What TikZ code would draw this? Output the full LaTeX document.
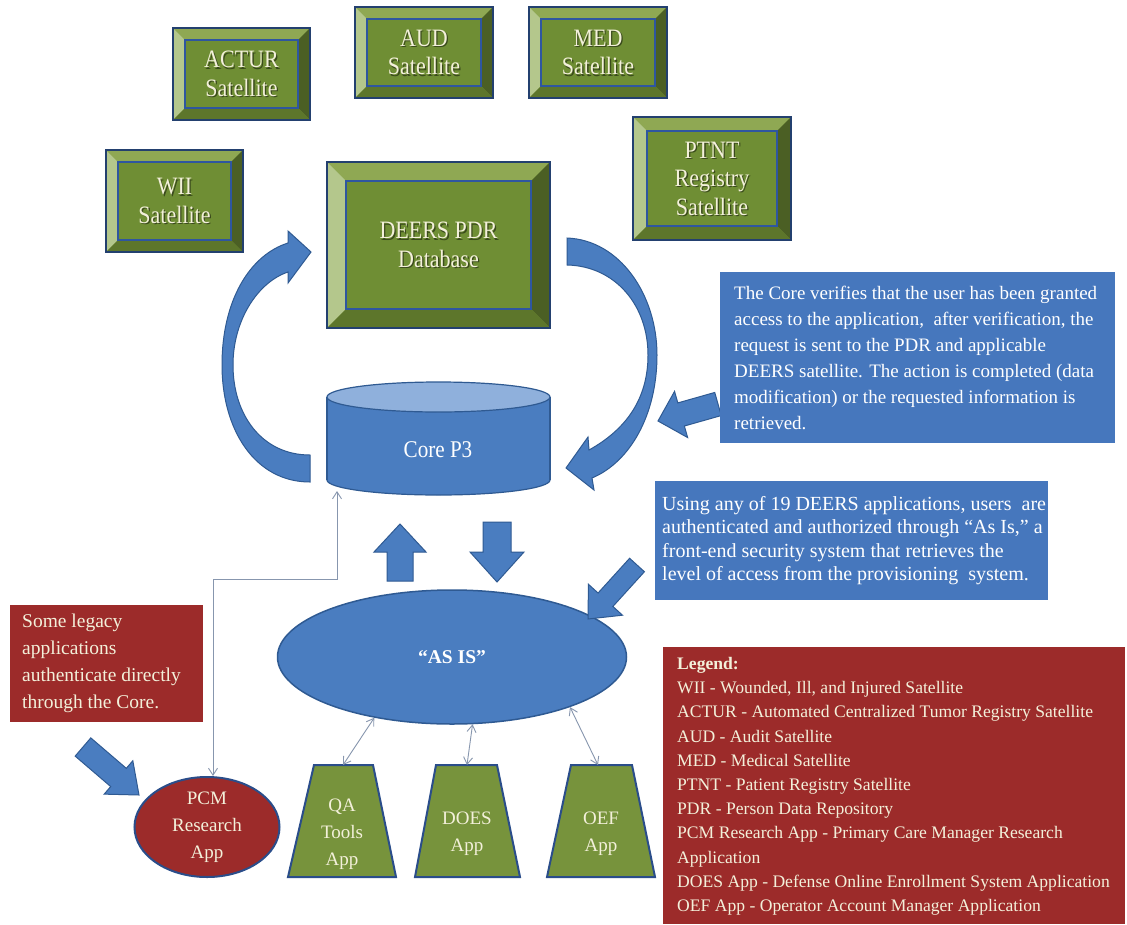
\documentclass[tikz,border=0pt]{standalone}
\usepackage{fontspec}
\setmainfont{Liberation Serif}
\newfontfamily\satfont[FakeStretch=0.88]{Liberation Serif}
\usetikzlibrary{calc,arrows.meta,shapes.geometric}

\definecolor{satface}{HTML}{6F8E34}
\definecolor{bevtopc}{HTML}{8FA853}
\definecolor{bevleftc}{HTML}{B4C78C}
\definecolor{bevrightc}{HTML}{4B5F24}
\definecolor{bevbotc}{HTML}{5D762B}
\definecolor{navyline}{HTML}{23406F}
\definecolor{innerline}{HTML}{2E56A0}
\definecolor{creamtxt}{HTML}{F3F0DA}
\definecolor{shadowtxt}{HTML}{3A4A1C}
\definecolor{shapeblue}{HTML}{4A7DC0}
\definecolor{shapeborder}{HTML}{2F5A92}
\definecolor{coretop}{HTML}{8FB0DC}
\definecolor{notefill}{HTML}{4677BD}
\definecolor{redfill}{HTML}{9C2B2A}
\definecolor{appgreen}{HTML}{77933C}
\definecolor{appborder}{HTML}{2A4D8A}
\definecolor{thinline}{HTML}{8796AE}

\tikzset{
  satbox/.style={rectangle, fill=satface, inner sep=0pt},
  bevtop/.style={fill=bevtopc},
  bevleft/.style={fill=bevleftc},
  bevright/.style={fill=bevrightc},
  bevbot/.style={fill=bevbotc},
  bevinner/.style={draw=innerline, line width=1.6pt},
  bevouter/.style={draw=navyline, line width=2pt},
  sattext/.style={text=creamtxt, font=\satfont\fontsize{25}{28.5}\selectfont, align=center},
  satshadow/.style={text=shadowtxt, font=\satfont\fontsize{25}{28.5}\selectfont, align=center},
  blockshape/.style={fill=shapeblue, draw=shapeborder, line width=1pt, line join=miter},
  notebox/.style={rectangle, fill=notefill, inner sep=0pt, anchor=north west},
  redbox/.style={rectangle, fill=redfill, inner sep=0pt, anchor=north west},
  notetext/.style={text=white, align=left, inner sep=0pt, anchor=west},
  redtext/.style={text=creamtxt, align=left, inner sep=0pt},
  apptext/.style={text=creamtxt, align=center, font=\fontsize{19}{27}\selectfont},
  appshape/.style={fill=appgreen, draw=appborder, line width=2pt, line join=miter},
  thinarrow/.style={draw=thinline, line width=0.9pt,
    {Straight Barb[length=7pt,width=9pt]}-{Straight Barb[length=7pt,width=9pt]}},
}

% bevelled box: name, x1, y1, x2, y2, text, bevel width
\newcommand{\bevelbox}[7]{%
  \node[satbox, minimum width={#4-#2}, minimum height={#5-#3}] (#1) at ({(#2+#4)/2},{(#3+#5)/2}) {};
  \coordinate (#1-inw) at ([shift={(#7,#7)}]#1.north west);
  \coordinate (#1-ine) at ([shift={(-#7,#7)}]#1.north east);
  \coordinate (#1-isw) at ([shift={(#7,-#7)}]#1.south west);
  \coordinate (#1-ise) at ([shift={(-#7,-#7)}]#1.south east);
  \fill[bevtop] (#1.north west) -- (#1.north east) -- (#1-ine) -- (#1-inw) -- cycle;
  \fill[bevleft] (#1.north west) -- (#1-inw) -- (#1-isw) -- (#1.south west) -- cycle;
  \fill[bevright] (#1.north east) -- (#1.south east) -- (#1-ise) -- (#1-ine) -- cycle;
  \fill[bevbot] (#1.south west) -- (#1-isw) -- (#1-ise) -- (#1.south east) -- cycle;
  \draw[bevinner] (#1-inw) rectangle (#1-ise);
  \draw[bevouter] (#1.north west) rectangle (#1.south east);
  \node[satshadow] at ([shift={(1.3,1.3)}]#1.center) {#6};
  \node[sattext] at (#1.center) {#6};
}

% straight block arrow: tail, tip, half shaft, half head, head length
\newcommand{\blkarrow}[5]{%
  \coordinate (bkb) at ($(#2)!#5!(#1)$);
  \filldraw[blockshape] ($(#1)!#3!90:(#2)$) -- ($(bkb)!#3!90:(#2)$) -- ($(bkb)!#4!90:(#2)$)
    -- (#2) -- ($(bkb)!#4!-90:(#2)$) -- ($(bkb)!#3!-90:(#2)$) -- ($(#1)!#3!-90:(#2)$) -- cycle;
}

\begin{document}
\begin{tikzpicture}[x=1pt,y=-1pt]
\fill[white] (0,0) rectangle (1127,924);
\useasboundingbox (0,0) rectangle (1127,924);

% satellites and database
\bevelbox{actur}{173}{28}{310}{120}{ACTUR\\Satellite}{12}
\bevelbox{aud}{355}{7}{493}{98}{AUD\\Satellite}{12}
\bevelbox{med}{529}{7}{667}{98}{MED\\Satellite}{12}
\bevelbox{wii}{106}{150}{243}{252}{WII\\Satellite}{12}
\bevelbox{ptnt}{633}{117}{791}{240}{PTNT\\Registry\\Satellite}{14}
\bevelbox{deers}{327}{162}{550}{328}{DEERS PDR\\Database}{19}

% Core P3 cylinder
\filldraw[fill=shapeblue, draw=shapeborder, line width=1.2pt] (438.5,480) ellipse [x radius=111.5pt, y radius=15pt];
\fill[shapeblue] (327,397) rectangle (550,480);
\draw[shapeborder, line width=1.2pt] (327,397) -- (327,480) (550,397) -- (550,480);
\filldraw[fill=coretop, draw=shapeborder, line width=1.2pt] (438.5,397) ellipse [x radius=111.5pt, y radius=15pt];
\node[rectangle, minimum width=223pt, minimum height=113pt, inner sep=0pt] (core) at (438.5,438.5) {};
\node[text=white, font=\satfont\fontsize{24}{26}\selectfont] (coretxt) at (438,450) {Core P3};

% curved arrows
\filldraw[blockshape] (310,482) .. controls (255,482) and (222,430) .. (222,365)
  .. controls (222,300) and (250,255) .. (288,243) -- (288,231) -- (311,252) -- (288,283) -- (288,272)
  .. controls (258,282) and (233,320) .. (233,365) .. controls (233,415) and (262,455) .. (310,455) -- cycle;
\filldraw[blockshape] (567,238) .. controls (620,240) and (657,295) .. (657,355)
  .. controls (657,415) and (630,462) .. (592,478) -- (594,490) -- (566,468) -- (588,437) -- (589,450)
  .. controls (625,430) and (648,400) .. (648,355) .. controls (648,305) and (615,266) .. (567,265) -- cycle;

% AS IS
\node[ellipse, fill=shapeblue, draw=shapeborder, line width=1.5pt, minimum width=349pt, minimum height=134pt,
  inner sep=0pt, text=white, font=\bfseries\fontsize{19.5}{22}\selectfont] (asis) at (452,657) {“AS IS”};

% straight block arrows
\coordinate (upT) at (400,581); \coordinate (upP) at (400,524);
\blkarrow{upT}{upP}{13pt}{26pt}{28pt}
\coordinate (dnT) at (497,522); \coordinate (dnP) at (497,582);
\blkarrow{dnT}{dnP}{14pt}{27pt}{30pt}
\coordinate (n1T) at (718,404); \coordinate (n1P) at (658,421);
\blkarrow{n1T}{n1P}{12pt}{24pt}{24pt}
\coordinate (n2T) at (637,565); \coordinate (n2P) at (588,619);
\blkarrow{n2T}{n2P}{10pt}{23pt}{26pt}
\coordinate (lgT) at (83,747); \coordinate (lgP) at (139,795);
\blkarrow{lgT}{lgP}{12pt}{22pt}{27pt}

% note boxes
\node[notebox, minimum width=395pt, minimum height=171pt] (note1) at (720,272) {};
\node[notetext, font=\fontsize{19}{26}\selectfont] at ([xshift=14pt]note1.west) {The Core verifies that the user has been granted\\access to the application,\ \ after verification, the\\request is sent to the PDR and applicable\\DEERS satellite. The action is completed (data\\modification) or the requested information is\\retrieved.};

\node[notebox, minimum width=393pt, minimum height=119pt] (note2) at (655,481) {};
\node[notetext, font=\fontsize{20}{23.5}\selectfont] at ([xshift=7pt]note2.west) {Using any of 19 DEERS applications, users\ \ are\\authenticated and authorized through “As Is,” a\\front-end security system that retrieves the\\level of access from the provisioning\ \ system.};

\node[redbox, minimum width=193pt, minimum height=117pt] (legacy) at (10,605) {};
\node[redtext, anchor=west, font=\fontsize{19.5}{27}\selectfont] at ([xshift=12pt]legacy.west) {Some legacy\\applications\\authenticate directly\\through the Core.};

% legend
\node[redbox, minimum width=462pt, minimum height=277pt] (legend) at (663,647) {};
\node[redtext, anchor=north west, font=\fontsize{17.6}{24.2}\selectfont] at (677,657) {\textbf{Legend:}\\
WII - Wounded, Ill, and Injured Satellite\\
ACTUR - Automated Centralized Tumor Registry Satellite\\
AUD - Audit Satellite\\
MED - Medical Satellite\\
PTNT - Patient Registry Satellite\\
PDR - Person Data Repository\\
PCM Research App - Primary Care Manager Research\\
Application\\
DOES App - Defense Online Enrollment System Application\\
OEF App - Operator Account Manager Application};

% applications
\node[ellipse, fill=redfill, draw=appborder, line width=2pt, minimum width=145pt, minimum height=100pt,
  inner sep=0pt, apptext] (pcm) at (207,827) {PCM\\Research\\App};
\filldraw[appshape] (314,765) -- (373,765) -- (396,877) -- (288,877) -- cycle;
\node[apptext] (qa) at (342,834) {QA\\Tools\\App};
\filldraw[appshape] (436,765) -- (497,765) -- (520,877) -- (415,877) -- cycle;
\node[apptext] (does) at (467,834) {DOES\\App};
\filldraw[appshape] (571,765) -- (632,765) -- (655,877) -- (547,877) -- cycle;
\node[apptext] (oef) at (601,834) {OEF\\App};
\coordinate (qatop) at (343,765);
\coordinate (doestop) at (467,765);
\coordinate (oeftop) at (598,765);

% thin connectors
\draw[thinarrow] (asis.218) -- (qatop);
\draw[thinarrow] (asis.-73) -- (doestop);
\draw[thinarrow] (asis.-23) -- (oeftop);
\coordinate (corein) at (337,491);
\draw[thinarrow] ([xshift=6pt]pcm.north) -- ++(0,-197) -| (corein);
\end{tikzpicture}
\end{document}
